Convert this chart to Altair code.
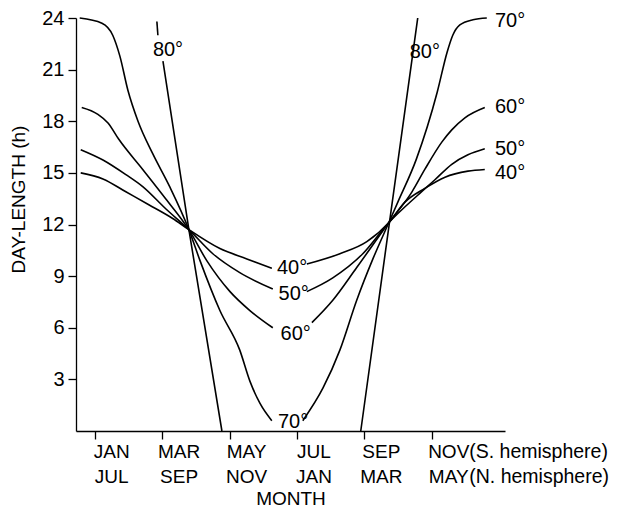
import altair as alt
import pandas as pd

# ---- data (x = months since 1 Jan, y = day-length h) ----
lat70_left_m = [-0.45, 0.21, 0.53, 0.74, 0.98, 1.28, 1.72, 2.22, 2.79, 3.12, 3.71, 4.30, 4.60, 4.90, 5.25]
lat70_left_h = [24.0, 23.7, 23.0, 21.8, 19.8, 18.0, 16.1, 14.2, 11.7, 9.9, 7.0, 4.7, 2.9, 1.6, 0.6]
lat70_right_m = [6.17, 6.77, 7.27, 7.77, 8.25, 8.72, 8.99, 9.54, 10.16, 10.45, 10.62, 10.83, 11.22, 11.63]
lat70_right_h = [0.6, 2.5, 4.7, 7.6, 10.0, 12.1, 13.3, 15.8, 19.7, 22.0, 23.0, 23.6, 23.9, 24.0]

lat60_left_m = [-0.39, 0.09, 0.39, 0.71, 1.42, 2.10, 2.79, 3.32, 4.01, 4.60, 5.28]
lat60_left_h = [18.8, 18.4, 17.9, 16.95, 15.2, 13.5, 11.7, 9.9, 8.1, 7.0, 6.0]
lat60_right_m = [6.44, 7.06, 7.77, 8.72, 9.41, 9.79, 10.30, 10.59, 10.98, 11.57]
lat60_right_h = [6.3, 7.6, 9.5, 12.1, 13.9, 15.2, 16.8, 17.5, 18.2, 18.8]

lat50_left_m = [-0.42, 0.24, 0.92, 1.42, 2.11, 2.79, 3.50, 4.30, 5.28]
lat50_left_h = [16.35, 15.75, 14.9, 14.2, 12.9, 11.7, 10.3, 9.2, 8.25]
lat50_right_m = [6.29, 7.06, 7.95, 8.72, 9.58, 10.09, 10.59, 11.07, 11.57]
lat50_right_h = [8.1, 8.9, 10.3, 12.1, 13.7, 14.6, 15.5, 16.05, 16.4]

lat40_left_m = [-0.42, 0.24, 0.92, 1.60, 2.31, 2.79, 3.71, 4.51, 5.25]
lat40_left_h = [15.0, 14.65, 13.9, 13.15, 12.35, 11.7, 10.6, 10.0, 9.45]
lat40_right_m = [6.29, 7.27, 8.07, 8.72, 9.20, 9.79, 10.39, 11.07, 11.57]
lat40_right_h = [9.7, 10.3, 11.0, 12.1, 13.3, 14.1, 14.75, 15.1, 15.2]

lat80_left_top_m = [1.84, 1.87]
lat80_left_top_h = [23.8, 23.0]
lat80_left_m = [2.02, 2.79, 3.77]
lat80_left_h = [21.5, 11.7, 0.0]
lat80_right_m = [7.89, 8.74, 9.58]
lat80_right_h = [0.0, 12.1, 24.0]

# curve labels
mid_label_text = ["40°", "50°", "60°", "70°", "80°", "80°"]
mid_label_m = [5.85, 5.90, 5.96, 5.88, 2.17, 9.79]
mid_label_h = [9.5, 7.95, 5.65, 0.55, 22.15, 22.0]
end_label_text = ["70°", "60°", "50°", "40°"]
end_label_m = [11.87, 11.87, 11.87, 11.87]
end_label_h = [23.85, 18.8, 16.4, 15.0]

# month axis
month_ticks = list(range(12))
month_pos = [0.5, 2.5, 4.5, 6.5, 8.5, 10.5]
months_south = ["JAN", "MAR", "MAY", "JUL", "SEP", "NOV"]
months_north = ["JUL", "SEP", "NOV", "JAN", "MAR", "MAY"]
hemi_pos = [10.5, 10.5]
hemi_text = ["(S. hemisphere)", "(N. hemisphere)"]
hemi_row = ["S", "N"]
y_ticks = [3, 6, 9, 12, 15, 18, 21, 24]

# ---- build tables ----
rows = []
def add(name, ms, hs):
    for m, h in zip(ms, hs):
        rows.append({"seg": name, "m": m, "h": h})

add("70L", lat70_left_m, lat70_left_h)
add("70R", lat70_right_m, lat70_right_h)
add("60L", lat60_left_m, lat60_left_h)
add("60R", lat60_right_m, lat60_right_h)
add("50L", lat50_left_m, lat50_left_h)
add("50R", lat50_right_m, lat50_right_h)
add("40L", lat40_left_m, lat40_left_h)
add("40R", lat40_right_m, lat40_right_h)
add("80T", lat80_left_top_m, lat80_left_top_h)
add("80L", lat80_left_m, lat80_left_h)
add("80R", lat80_right_m, lat80_right_h)
curves = pd.DataFrame(rows)

mid_labels = pd.DataFrame({"t": mid_label_text, "m": mid_label_m, "h": mid_label_h})
end_labels = pd.DataFrame({"t": end_label_text, "m": end_label_m, "h": end_label_h})
month_df = pd.DataFrame({"m": month_pos, "s": months_south, "n": months_north})
hemi_df = pd.DataFrame({"m": hemi_pos, "t": hemi_text, "row": hemi_row})

FONT = "Liberation Sans"
FS_CAPS = 19
FS_NUM = 20
FS_LBL = 20
FS_HEMI = 19.5
W, H = 429, 413

xscale = alt.Scale(domain=[-0.56, 12.17], nice=False, zero=False)
yscale = alt.Scale(domain=[0, 24], nice=False, zero=False)

lines = alt.Chart(curves).mark_line(color="black", strokeWidth=1.6, interpolate="monotone").encode(
    x=alt.X("m:Q", scale=xscale,
            axis=alt.Axis(values=month_ticks, labels=False, ticks=True, tickSize=8, grid=False,
                          domainColor="black", tickColor="black", domainWidth=1.3, tickWidth=1.3,
                          title="MONTH", titleFont=FONT, titleFontSize=FS_CAPS, titleFontWeight="normal",
                          titleColor="black", titleY=67, titleBaseline="middle")),
    y=alt.Y("h:Q", scale=yscale,
            axis=alt.Axis(values=y_ticks, tickSize=8, grid=False, labelPadding=4,
                          labelFont=FONT, labelFontSize=FS_NUM, labelColor="black",
                          domainColor="black", tickColor="black", domainWidth=1.3, tickWidth=1.3,
                          title="DAY-LENGTH (h)", titleFont=FONT, titleFontSize=FS_CAPS,
                          titleFontWeight="normal", titleColor="black",
                          titleX=-58, titleY=181, titleBaseline="middle", titleAlign="center")),
    detail="seg:N",
    order="m:Q",
)

mid_text = alt.Chart(mid_labels).mark_text(font=FONT, fontSize=FS_LBL, color="black", align="center",
                                           baseline="middle").encode(
    x=alt.X("m:Q", scale=xscale), y=alt.Y("h:Q", scale=yscale), text="t:N")

end_text = alt.Chart(end_labels).mark_text(font=FONT, fontSize=FS_LBL, color="black", align="left",
                                           baseline="middle").encode(
    x=alt.X("m:Q", scale=xscale), y=alt.Y("h:Q", scale=yscale), text="t:N")

south_text = alt.Chart(month_df).mark_text(font=FONT, fontSize=FS_CAPS, color="black", align="center",
                                           baseline="middle").encode(
    x=alt.X("m:Q", scale=xscale), y=alt.value(H + 21), text="s:N")
north_text = alt.Chart(month_df).mark_text(font=FONT, fontSize=FS_CAPS, color="black", align="center",
                                           baseline="middle").encode(
    x=alt.X("m:Q", scale=xscale), y=alt.value(H + 46), text="n:N")

hemi_s = alt.Chart(hemi_df).transform_filter(alt.datum.row == "S").mark_text(
    font=FONT, fontSize=FS_HEMI, color="black", align="left", baseline="middle", dx=20.5).encode(
    x=alt.X("m:Q", scale=xscale), y=alt.value(H + 21), text="t:N")
hemi_n = alt.Chart(hemi_df).transform_filter(alt.datum.row == "N").mark_text(
    font=FONT, fontSize=FS_HEMI, color="black", align="left", baseline="middle", dx=20.5).encode(
    x=alt.X("m:Q", scale=xscale), y=alt.value(H + 46), text="t:N")

chart = alt.layer(lines, mid_text, end_text, south_text, north_text, hemi_s, hemi_n).properties(
    width=W, height=H,
    autosize=alt.AutoSizeParams(type="none"),
    padding={"left": 68, "top": 10, "right": 104, "bottom": 77},
    background="white",
).configure_view(stroke=None)

chart.save("out.html", embed_options={"renderer": "svg", "actions": False})
